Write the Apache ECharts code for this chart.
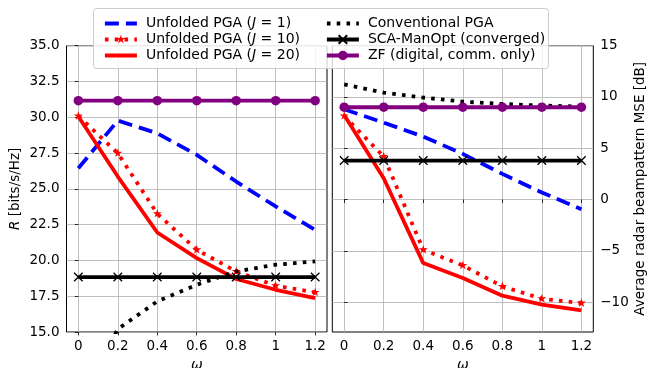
<!DOCTYPE html>
<html><head><meta charset="utf-8">
<script src="https://cdn.jsdelivr.net/npm/echarts@6/dist/echarts.min.js"></script>
<style>html,body{margin:0;padding:0;background:#fff}#c{width:649px;height:368px}</style>
</head><body><div id="c"></div>
<script>
const omega = [0, 0.2, 0.4, 0.6, 0.8, 1, 1.2];
const xTicks = [0, 0.2, 0.4, 0.6, 0.8, 1, 1.2];
const rateTicks = [15, 17.5, 20, 22.5, 25, 27.5, 30, 32.5, 35];
const mseTicks = [-10, -5, 0, 5, 10, 15];
const names = ['Unfolded PGA (J = 1)', 'Unfolded PGA (J = 10)', 'Unfolded PGA (J = 20)',
  'Conventional PGA', 'SCA-ManOpt (converged)', 'ZF (digital, comm. only)'];
// Achievable rate R [bits/s/Hz]
const rateJ1 = [26.44, 29.77, 28.88, 27.37, 25.51, 23.77, 22.14];
const rateJ10 = [30.09, 27.49, 23.26, 20.74, 19.23, 18.23, 17.77];
const rateJ20 = [30.05, 25.86, 21.95, 20.16, 18.7, 17.95, 17.37];
const rateConv = [10.0, 15.2, 17.14, 18.3, 19.23, 19.7, 19.93];
const rateSCA = [18.84, 18.84, 18.84, 18.84, 18.84, 18.84, 18.84];
const rateZF = [31.16, 31.16, 31.16, 31.16, 31.16, 31.16, 31.16];
// Average radar beampattern MSE [dB]
const mseJ1 = [8.8, 7.5, 6.14, 4.45, 2.5, 0.68, -0.94];
const mseJ10 = [8.15, 4.19, -4.9, -6.43, -8.47, -9.68, -10.1];
const mseJ20 = [8.25, 2.08, -6.2, -7.66, -9.38, -10.26, -10.8];
const mseConv = [11.23, 10.42, 9.94, 9.55, 9.32, 9.16, 9.06];
const mseSCA = [3.8, 3.8, 3.8, 3.8, 3.8, 3.8, 3.8];
const mseZF = [9.0, 9.0, 9.0, 9.0, 9.0, 9.0, 9.0];

const FONT = 'DejaVu Sans';
const FS = 13.5;
// marker shapes in a 0..100 box, padded so the legend (size 11.2) shows them at ~9.5px
const PAD = 'M-9,-9L-9,-9M109,109L109,109';
const STAR = 'path://' + PAD + 'M50,0L61.2,34.5L97.6,34.5L68.2,55.9L79.4,90.5L50,69.1L20.6,90.5L31.8,55.9L2.4,34.5L38.8,34.5Z';
const XMARK = 'path://' + PAD + 'M5,5L95,95M95,5L5,95';
const CIRC = 'path://' + PAD + 'M50,0A50,50 0 1,1 50,100A50,50 0 1,1 50,0Z';
const MS = 11.2;

const styles = [
  {color: '#0000ff', lineStyle: {width: 3.8, type: [14, 7], cap: 'butt'}, symbol: 'none'},
  {color: '#ff0000', lineStyle: {width: 3.8, type: [3.6, 6.2], cap: 'butt'}, symbol: STAR},
  {color: '#ff0000', lineStyle: {width: 3.8}, symbol: 'none'},
  {color: '#000000', lineStyle: {width: 3.8, type: [3.6, 6.2], cap: 'butt'}, symbol: 'none'},
  {color: '#000000', lineStyle: {width: 3.8}, symbol: XMARK, itemStyle: {color: '#000', borderColor: '#000', borderWidth: 1.3}},
  {color: '#800080', lineStyle: {width: 3.8}, symbol: CIRC}
];
const rateSets = [rateJ1, rateJ10, rateJ20, rateConv, rateSCA, rateZF];
const mseSets = [mseJ1, mseJ10, mseJ20, mseConv, mseSCA, mseZF];
const order = [3, 0, 1, 2, 4, 5];

const series = [];
[[rateSets, 0], [mseSets, 1]].forEach(([sets, gi]) => {
  order.forEach(k => {
    const s = styles[k];
    const noSym = s.symbol === 'none';
    series.push({
      type: 'line', name: names[k], xAxisIndex: gi, yAxisIndex: gi,
      data: omega.map((x, i) => [x, sets[k][i]]),
      symbol: noSym ? 'circle' : s.symbol, symbolSize: noSym ? 1 : MS, showSymbol: !noSym,
      lineStyle: Object.assign({color: s.color}, s.lineStyle),
      itemStyle: s.itemStyle || (noSym ? {color: s.color, opacity: 0} : {color: s.color}),
      color: s.color, clip: true, z: 2 + k, silent: true
    });
  });
});

const splitStyle = {show: true, lineStyle: {color: '#b0b0b0', width: 0.8}};
const tickStyle = {show: true, length: 3.5, lineStyle: {color: '#000', width: 0.8}};
const labelBase = {fontFamily: FONT, fontSize: FS, color: '#000'};

function xAxis(gi) {
  return {
    type: 'value', gridIndex: gi, min: -0.06, max: 1.26,
    name: 'ω', nameLocation: 'middle', nameGap: 26,
    nameTextStyle: {fontFamily: FONT, fontSize: 14, fontStyle: 'italic', color: '#000'},
    axisLine: {show: false},
    axisTick: Object.assign({customValues: xTicks}, tickStyle),
    axisLabel: Object.assign({customValues: xTicks, margin: 7, formatter: v => String(v)}, labelBase),
    splitLine: splitStyle
  };
}

const legendText = {
  fontFamily: FONT, fontSize: 14, color: '#000', lineHeight: 14, padding: [0, 0, 0, 4],
  rich: {i: {fontFamily: FONT, fontSize: 14, lineHeight: 14, fontStyle: 'italic', color: '#000'}}
};
const fmt = n => n.replace('(J', '({i|J}');
const gridBase = {top: 45.7, height: 286.3, show: true, borderColor: '#000', borderWidth: 1,
  backgroundColor: 'transparent', outerBoundsMode: 'none', containLabel: false};
const legendBase = {top: 11.5, orient: 'vertical', itemWidth: 32, itemHeight: 14, itemGap: 2,
  textStyle: legendText, formatter: fmt, selectedMode: false, z: 60,
  lineStyle: {width: 3.8}};

const option = {
  animation: false,
  backgroundColor: '#fff',
  grid: [
    Object.assign({left: 66.5, width: 260.5}, gridBase),
    Object.assign({left: 332.3, width: 261}, gridBase)
  ],
  xAxis: [xAxis(0), xAxis(1)],
  yAxis: [
    {
      type: 'value', gridIndex: 0, min: 15, max: 35, interval: 2.5, position: 'left',
      name: '{i|R} [bits/s/Hz]', nameLocation: 'middle', nameGap: 44, nameRotate: 90,
      nameTextStyle: {fontFamily: FONT, fontSize: FS, color: '#000',
        rich: {i: {fontFamily: FONT, fontSize: FS, fontStyle: 'italic', color: '#000'}}},
      axisLine: {show: false}, axisTick: tickStyle,
      axisLabel: Object.assign({margin: 7, formatter: v => v.toFixed(1)}, labelBase),
      splitLine: splitStyle
    },
    {
      type: 'value', gridIndex: 1, min: -12.92, max: 15, position: 'right',
      name: 'Average radar beampattern MSE [dB]', nameLocation: 'middle', nameGap: 40, nameRotate: 90,
      nameTextStyle: {fontFamily: FONT, fontSize: FS, color: '#000'},
      axisLine: {show: false},
      axisTick: Object.assign({customValues: mseTicks}, tickStyle),
      axisLabel: Object.assign({customValues: mseTicks, margin: 7, formatter: v => String(v).replace('-', '\u2212')}, labelBase),
      splitLine: splitStyle
    }
  ],
  legend: [
    Object.assign({left: 98, data: names.slice(0, 3)}, legendBase),
    Object.assign({left: 320, data: names.slice(3)}, legendBase)
  ],
  graphic: [{
    type: 'rect', z: 50, silent: true,
    shape: {x: 93.5, y: 8.5, width: 455, height: 60, r: 3},
    style: {fill: 'rgba(255,255,255,0.8)', stroke: '#cccccc', lineWidth: 1}
  }],
  series: series
};
const chart = echarts.init(document.getElementById('c'), null, {renderer: 'canvas'});
chart.setOption(option);
</script></body></html>
